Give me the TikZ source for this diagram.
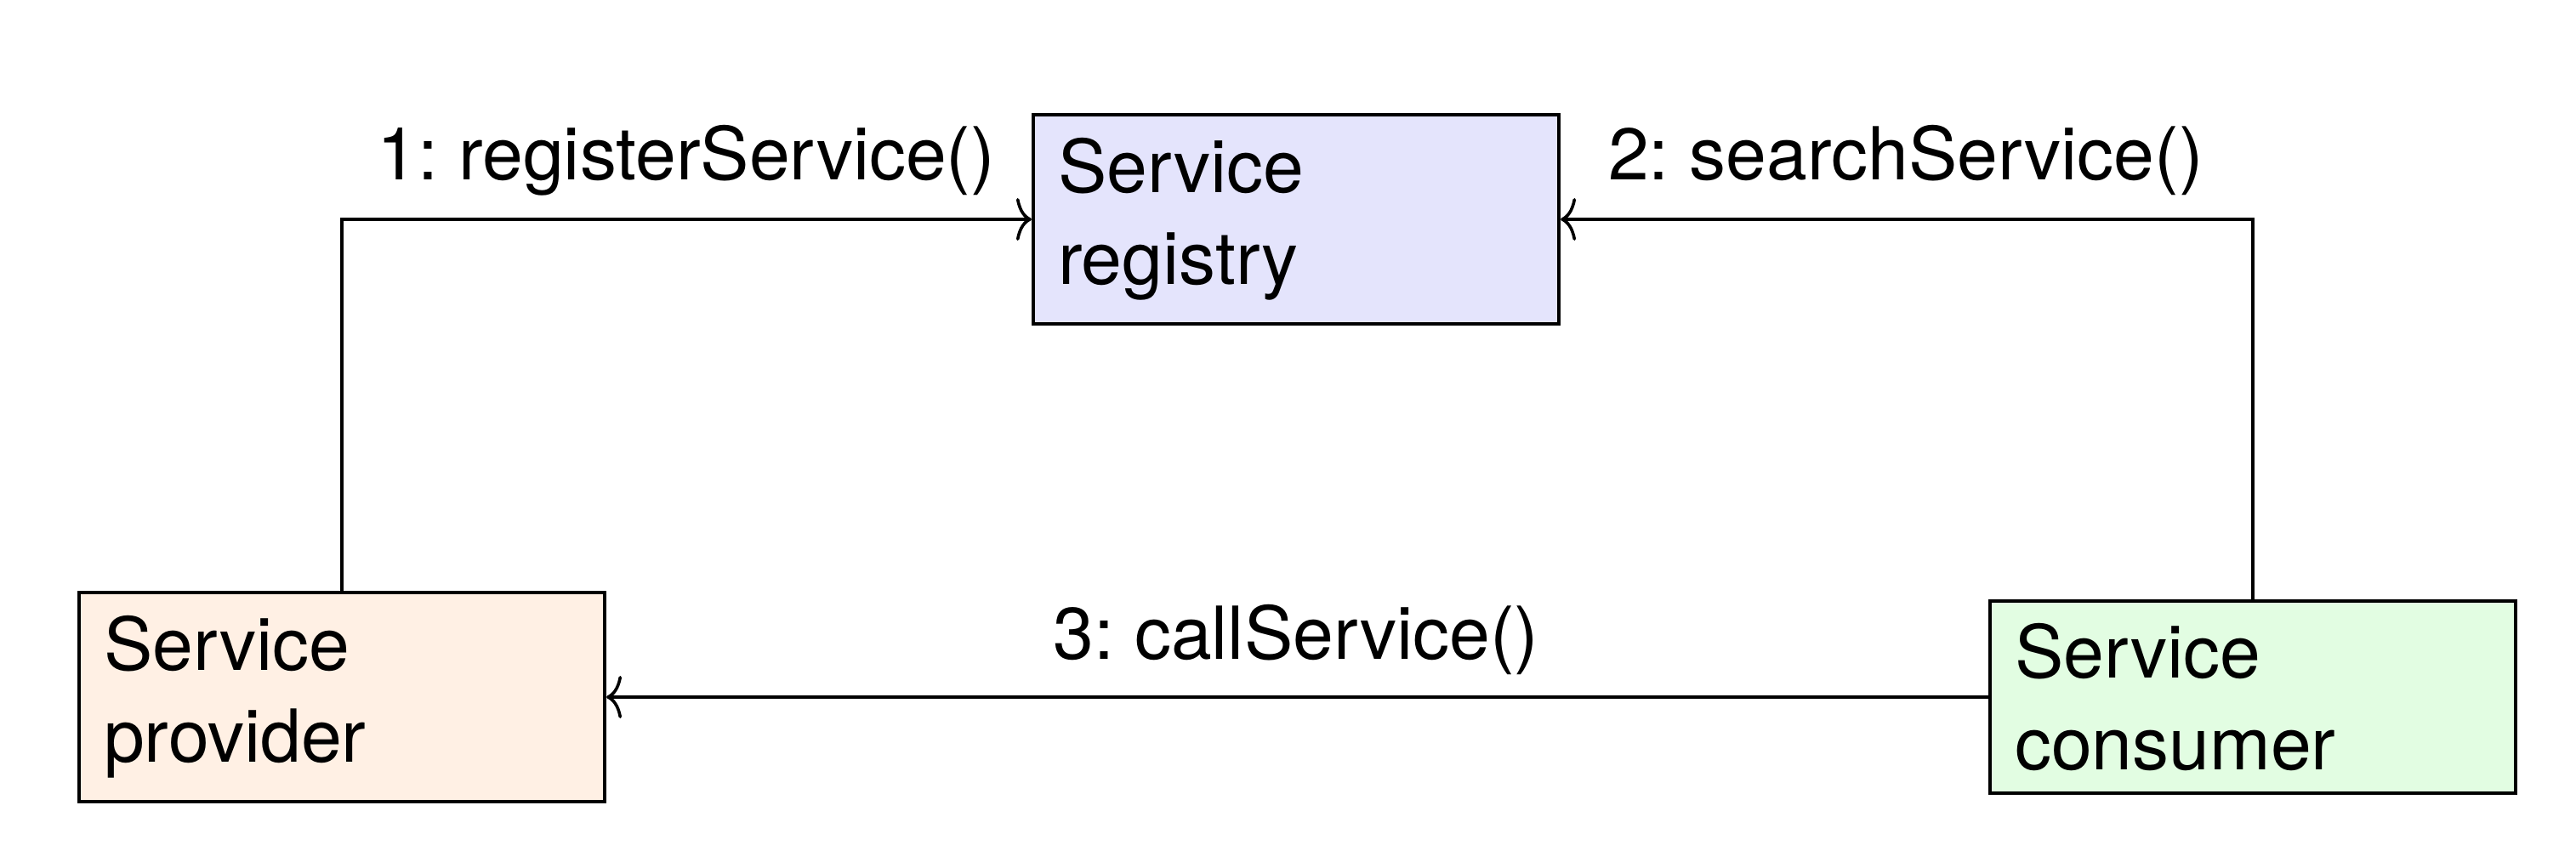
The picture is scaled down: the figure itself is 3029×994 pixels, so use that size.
\documentclass[tikz,border=0pt]{standalone}
\usepackage{fontspec}
\setmainfont{TeX Gyre Heros}
\usetikzlibrary{arrows.meta}
\definecolor{regfill}{HTML}{E4E4FC}
\definecolor{provfill}{HTML}{FFF0E4}
\definecolor{consfill}{HTML}{E2FDE2}
\tikzset{
  box/.style={draw=black, line width=2.1pt, rectangle, minimum width=309pt,
    text width=280pt, inner xsep=14.5pt, align=left,
    font=\fontsize{43}{54}\selectfont\frenchspacing},
  conn/.style={draw=black, line width=1.8pt,
    -{Computer Modern Rightarrow[length=9pt,width=25pt]}},
  lbl/.style={font=\fontsize{43}{54}\selectfont\frenchspacing, inner sep=0pt, anchor=base}
}
\begin{document}
\begin{tikzpicture}[x=0.5pt,y=-0.5pt]
\useasboundingbox (0,0) rectangle (3029,994);
\node[box, fill=regfill, minimum height=123pt] (reg) at (1524,258) {Service\\registry};
\node[box, fill=provfill, minimum height=123pt] (prov) at (402,820) {Service\\provider};
\node[box, fill=consfill, minimum height=113pt] (cons) at (2649,820) {Service\\consumer};
\draw[conn] (prov.north) |- (reg.west);
\draw[conn] (cons.north) |- (reg.east);
\draw[conn] (cons.west) -- (prov.east);
\node[lbl] (l1) at (807,212) {1: registerService()};
\node[lbl] (l2) at (2241,212) {2: searchService()};
\node[lbl] (l3) at (1524,775) {3: callService()};
\end{tikzpicture}
\end{document}
